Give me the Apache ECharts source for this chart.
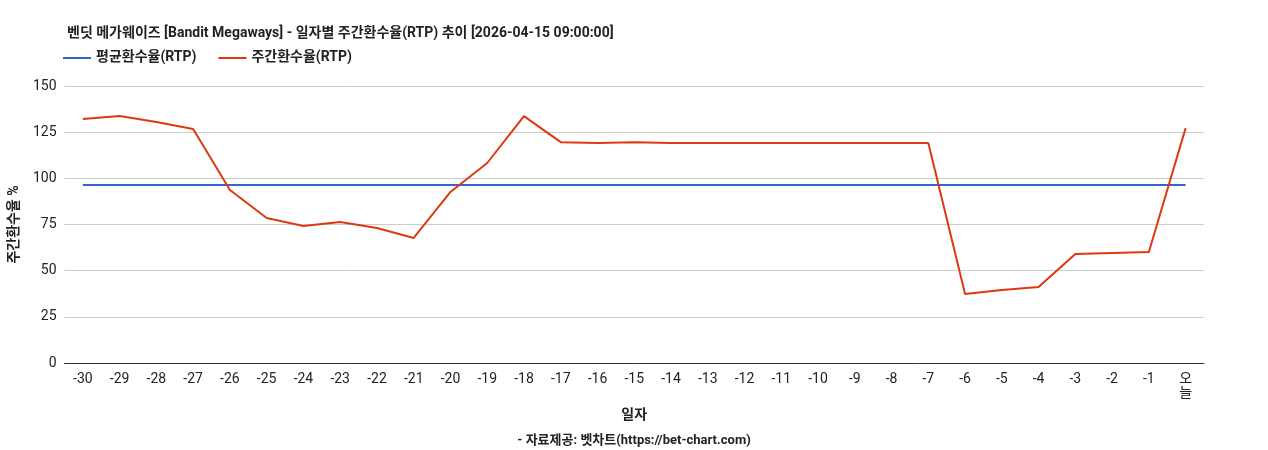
<!DOCTYPE html>
<html>
<head>
<meta charset="utf-8">
<script src="https://cdn.jsdelivr.net/npm/echarts@6/dist/echarts.min.js"></script>
<style>html,body{margin:0;padding:0;background:#fff}#chart{width:1268px;height:450px}</style>
</head>
<body>
<div id="chart"></div>
<script>
// 일자 카테고리
const days = ['-30','-29','-28','-27','-26','-25','-24','-23','-22','-21','-20','-19','-18','-17','-16','-15','-14','-13','-12','-11','-10','-9','-8','-7','-6','-5','-4','-3','-2','-1','오늘'];
// 주간환수율
const weeklyRtp = [132.1,133.7,130.5,126.7,93.7,78.5,74.2,76.3,73.1,67.7,92.6,108.3,133.7,119.6,119.1,119.6,119.1,119.1,119.1,119.1,119.1,119.1,119.1,119.1,37.4,39.5,41.1,59.0,59.6,60.1,127.2];
// 평균환수율
const avgRtp = days.map(() => 96.4);
const yTicks = [0, 25, 50, 75, 100, 125, 150];

const font = 'Roboto, "Noto Sans CJK KR", sans-serif';
const chart = echarts.init(document.getElementById('chart'));
chart.setOption({
  animation: false,
  textStyle: { fontFamily: font },
  title: [{
    text: '벤딧 메가웨이즈 [Bandit Megaways] - 일자별 주간환수율(RTP) 추이 [2026-04-15 09:00:00]',
    left: 62, top: 22,
    textStyle: { fontSize: 14, fontWeight: 'bold', color: '#222', fontFamily: font }
  }, {
    text: '- 자료제공: 벳차트(https://bet-chart.com)',
    left: 'center', top: 429,
    textStyle: { fontSize: 13, fontWeight: 'bold', color: '#222', fontFamily: font }
  }],
  legend: {
    left: 58, top: 46,
    itemWidth: 28, itemHeight: 2, itemGap: 22,
    icon: 'rect',
    textStyle: { fontSize: 14, fontWeight: 'bold', color: '#222' },
    data: ['평균환수율(RTP)', '주간환수율(RTP)']
  },
  grid: { left: 62, right: 64, top: 86, bottom: 87 },
  xAxis: {
    type: 'category',
    data: days,
    boundaryGap: true,
    name: '일자', nameLocation: 'middle', nameGap: 46,
    nameTextStyle: { fontSize: 14, fontWeight: 'bold', color: '#222' },
    axisLine: { lineStyle: { color: '#333' } },
    axisTick: { show: false },
    axisLabel: { interval: 0, fontSize: 14, color: '#222', margin: 10,
      formatter: v => v === '오늘' ? '오\n늘' : v }
  },
  yAxis: {
    type: 'value', min: 0, max: 150, interval: 25,
    name: '주간환수율 %', nameLocation: 'middle', nameGap: 38,
    nameTextStyle: { fontSize: 14, fontWeight: 'bold', color: '#222' },
    axisLine: { show: false }, axisTick: { show: false },
    axisLabel: { fontSize: 14, color: '#222', formatter: v => yTicks.includes(v) ? String(v) : '' },
    splitLine: { lineStyle: { color: '#ccc' } }
  },
  series: [{
    name: '평균환수율(RTP)', type: 'line', data: avgRtp,
    symbol: 'none', lineStyle: { color: '#3366cc', width: 2 }, itemStyle: { color: '#3366cc' }
  }, {
    name: '주간환수율(RTP)', type: 'line', data: weeklyRtp,
    symbol: 'none', lineStyle: { color: '#dc3912', width: 2 }, itemStyle: { color: '#dc3912' }
  }]
});
</script>
</body>
</html>
